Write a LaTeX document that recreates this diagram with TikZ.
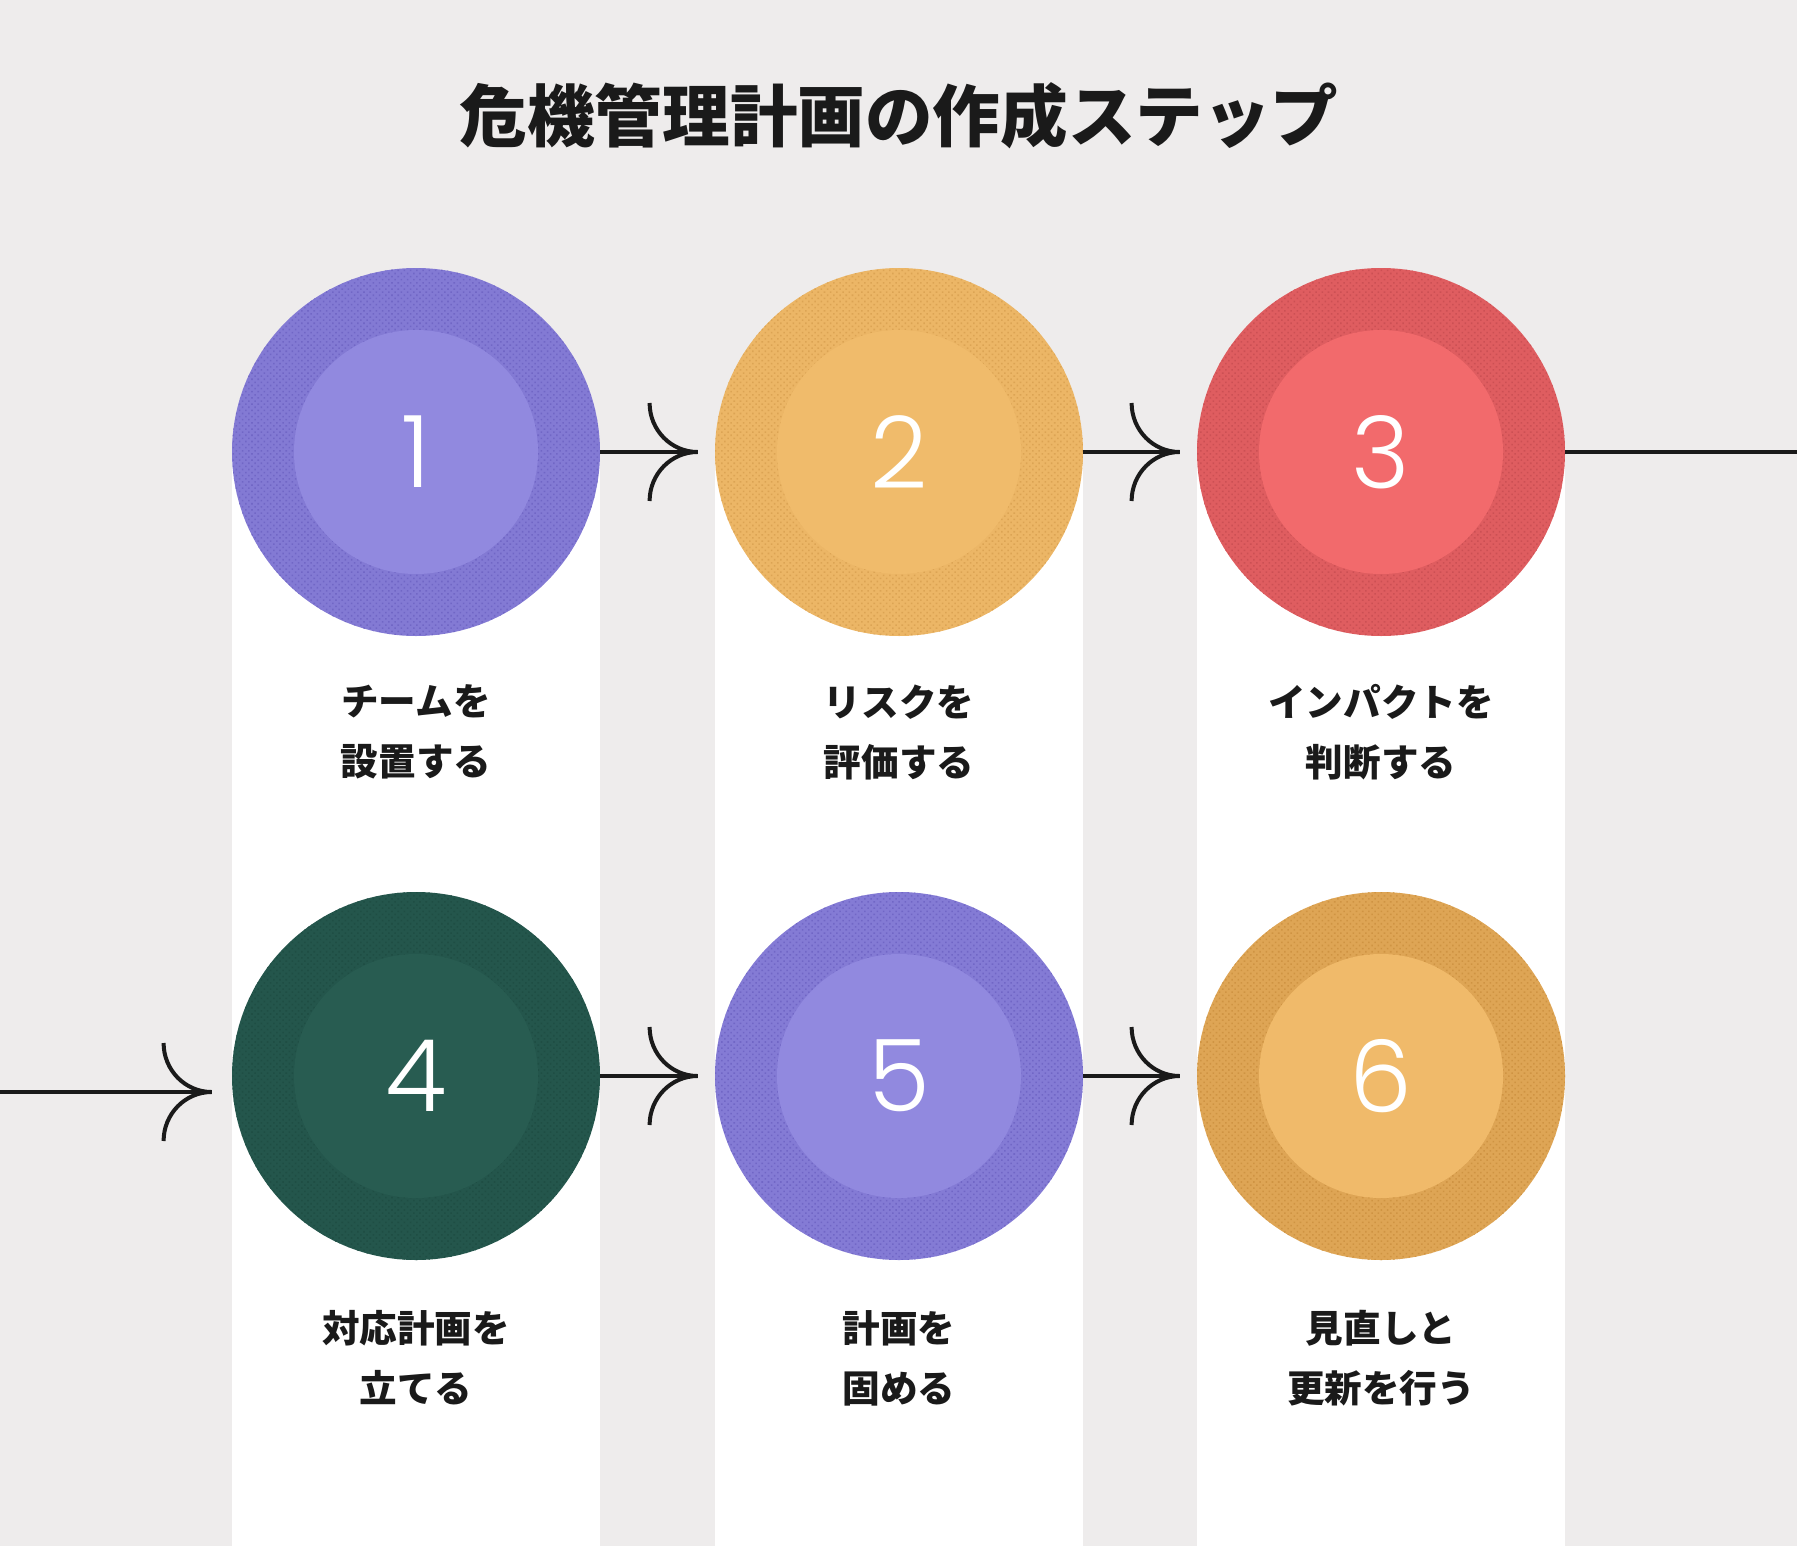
\documentclass[tikz,border=0pt]{standalone}
\usepackage{fontspec}
\setmainfont{Noto Sans CJK JP}
\newfontfamily\numfont{Poppins Light}
\usetikzlibrary{positioning, patterns.meta}

\definecolor{paper}{HTML}{EEECEC}
\definecolor{ink}{HTML}{1A1A1A}
\definecolor{lav}{HTML}{9189DF}
\definecolor{lavrim}{HTML}{7167C6}
\definecolor{sun}{HTML}{F0BB6B}
\definecolor{sunrim}{HTML}{DCA454}
\definecolor{coral}{HTML}{F26A6C}
\definecolor{coralrim}{HTML}{CC5054}
\definecolor{pine}{HTML}{285C51}
\definecolor{pinerim}{HTML}{1F4E44}
\definecolor{gold}{HTML}{F0BA6A}
\definecolor{goldrim}{HTML}{CF9443}

\tikzset{
  stepdisc/.style={circle, inner sep=0pt, minimum size=184pt},
  stepnum/.style={text=white, font=\numfont\fontsize{50}{50}\selectfont},
  steplabel/.style={align=center, text=ink, font=\bfseries\fontsize{18.8}{30}\selectfont},
  flow/.style={draw=ink, line width=2pt},
  barbs/.pic={
    \draw[flow] (-48,-49) arc[start angle=180, end angle=90, x radius=48, y radius=49]
      arc[start angle=270, end angle=180, x radius=48, y radius=49];
  }
}

\begin{document}
\begin{tikzpicture}[x=0.5pt, y=-0.5pt]
    \useasboundingbox (0,0) rectangle (1797,1546);
    \fill[paper] (0,0) rectangle (1797,1546);

    % white strips behind the steps
    \foreach \x in {416, 899, 1381}
        \fill[white] ({\x-184},452) rectangle ({\x+184},1546);

    \node[font=\bfseries\fontsize{33.8}{40}\selectfont, text=ink] (title) at (899,116) {危機管理計画の作成ステップ};

    % discs
    \foreach \n/\x/\y/\base/\rim/\dens in {1/416/452/lav/lavrim/45, 2/899/452/sun/sunrim/20, 3/1381/452/coral/coralrim/50,
                                           4/416/1076/pine/pinerim/40, 5/899/1076/lav/lavrim/40, 6/1381/1076/gold/goldrim/55} {
        \node[stepdisc, fill=\rim!\dens!\base] (s\n) at (\x,\y) {};
        \fill[pattern={Dots[radius=0.55pt, distance=2.2pt, angle=45]}, pattern color=\rim] (s\n) circle[radius=184];
        \fill[\base] (s\n) circle[radius=122];
        \node[stepnum] at (s\n) {\n};
    }

    \node[steplabel, yshift=-140pt] (t1) at (s1) {チームを\\設置する};
    \node[steplabel, yshift=-140pt] (t2) at (s2) {リスクを\\評価する};
    \node[steplabel, yshift=-140pt] (t3) at (s3) {インパクトを\\判断する};
    \node[steplabel, yshift=-141pt] (t4) at (s4) {対応計画を\\立てる};
    \node[steplabel, yshift=-141pt] (t5) at (s5) {計画を\\固める};
    \node[steplabel, yshift=-141pt] (t6) at (s6) {見直しと\\更新を行う};

    % connectors
    \coordinate (out3) at (1797,452);
    \coordinate (in4) at (0,1092);
    \draw[flow] (s1.east) -- ([xshift=-8.5pt]s2.west) pic {barbs};
    \draw[flow] (s2.east) -- ([xshift=-8.5pt]s3.west) pic {barbs};
    \draw[flow] (s3.east) -- (out3);
    \draw[flow] (in4) -- ([xshift=-10pt, yshift=-8pt]s4.west) pic {barbs};
    \draw[flow] (s4.east) -- ([xshift=-8.5pt]s5.west) pic {barbs};
    \draw[flow] (s5.east) -- ([xshift=-8.5pt]s6.west) pic {barbs};
\end{tikzpicture}
\end{document}
